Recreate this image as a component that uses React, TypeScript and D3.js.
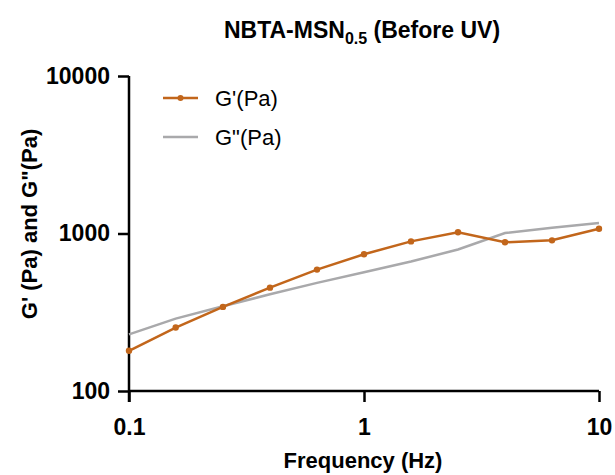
import React, { useRef, useEffect } from "react";
import * as d3 from "d3";

const freq = [0.1, 0.158, 0.251, 0.398, 0.631, 1, 1.585, 2.512, 3.981, 6.31, 10];
const gPrime = [180, 253, 342, 453, 590, 738, 891, 1018, 879, 905, 1073];
const gDouble = [229, 288, 345, 411, 486, 568, 664, 791, 1007, 1089, 1166];
const xTicks = [0.1, 1, 10];
const yTicks = [100, 1000, 10000];
const seriesNames = ["G'(Pa)", 'G"(Pa)'];

const W = 615;
const H = 475;
const FONT = "Liberation Sans, Arial, Helvetica, sans-serif";
const ORANGE = "#c2661b";
const GREY = "#a9a9ab";

function App() {
  const svgRef = useRef(null);

  useEffect(() => {
    const svg = d3.select(svgRef.current);
    svg.selectAll("*").remove();

    const x = d3.scaleLog().domain([0.1, 10]).range([129, 599]);
    const y = d3.scaleLog().domain([100, 10000]).range([391, 76]);

    // axes
    const xAxis = svg
      .append("g")
      .attr("transform", "translate(0,391)")
      .call(d3.axisBottom(x).tickValues(xTicks).tickFormat(d3.format("")).tickSize(11).tickPadding(17));
    const yAxis = svg
      .append("g")
      .attr("transform", "translate(129,0)")
      .call(d3.axisLeft(y).tickValues(yTicks).tickFormat(d3.format("")).tickSize(11).tickPadding(8));

    [xAxis, yAxis].forEach((a) => {
      a.select(".domain").attr("stroke", "#000").attr("stroke-width", 2.5);
      a.selectAll(".tick line").attr("stroke", "#000").attr("stroke-width", 2.5);
      a.selectAll(".tick text")
        .attr("fill", "#000")
        .style("font-family", FONT)
        .style("font-weight", "bold")
        .style("font-size", "23px");
    });
    // drop the outer end-caps of the domain paths
    xAxis.select(".domain").attr("d", `M129,0H599`);
    yAxis.select(".domain").attr("d", `M0,${y(10000)}V${391 + 11}`);

    const line = d3
      .line<number>()
      .x((_, i) => x(freq[i]))
      .y((d) => y(d));

    svg
      .append("path")
      .datum(gDouble)
      .attr("d", line)
      .attr("fill", "none")
      .attr("stroke", GREY)
      .attr("stroke-width", 2.5);

    svg
      .append("path")
      .datum(gPrime)
      .attr("d", line)
      .attr("fill", "none")
      .attr("stroke", ORANGE)
      .attr("stroke-width", 2.5);

    svg
      .selectAll(".pt")
      .data(gPrime)
      .join("circle")
      .attr("class", "pt")
      .attr("cx", (_, i) => x(freq[i]))
      .attr("cy", (d) => y(d))
      .attr("r", 3.2)
      .attr("fill", ORANGE);

    // legend
    const legend = svg.append("g");
    const colors = [ORANGE, GREY];
    seriesNames.forEach((name, i) => {
      const ly = 98 + i * 39;
      legend
        .append("line")
        .attr("x1", 163)
        .attr("x2", 198)
        .attr("y1", ly)
        .attr("y2", ly)
        .attr("stroke", colors[i])
        .attr("stroke-width", 2.5);
      if (i === 0) {
        legend.append("circle").attr("cx", 180.5).attr("cy", ly).attr("r", 3).attr("fill", ORANGE);
      }
      legend
        .append("text")
        .attr("x", 215)
        .attr("y", ly + 8)
        .style("font-family", FONT)
        .style("font-size", "22px")
        .attr("fill", "#000")
        .text(name);
    });

    // title
    const title = svg
      .append("text")
      .attr("x", 362)
      .attr("y", 38)
      .attr("text-anchor", "middle")
      .style("font-family", FONT)
      .style("font-weight", "bold")
      .style("font-size", "23px")
      .attr("fill", "#000");
    title.append("tspan").text("NBTA-MSN");
    title.append("tspan").attr("dy", 6).style("font-size", "16px").text("0.5");
    title.append("tspan").attr("dy", -6).text(" (Before UV)");

    svg
      .append("text")
      .attr("x", 363)
      .attr("y", 468)
      .attr("text-anchor", "middle")
      .style("font-family", FONT)
      .style("font-weight", "bold")
      .style("font-size", "22px")
      .attr("fill", "#000")
      .text("Frequency (Hz)");

    svg
      .append("text")
      .attr("transform", `translate(37,224) rotate(-90)`)
      .attr("text-anchor", "middle")
      .style("font-family", FONT)
      .style("font-weight", "bold")
      .style("font-size", "22px")
      .attr("fill", "#000")
      .text('G\' (Pa) and G"(Pa)');
  }, []);

  return (
    <div style={{ position: "absolute", left: 0, top: 0 }}>
      <svg ref={svgRef} width={W} height={H} style={{ display: "block", background: "#fff" }} />
    </div>
  );
}

export default App;
